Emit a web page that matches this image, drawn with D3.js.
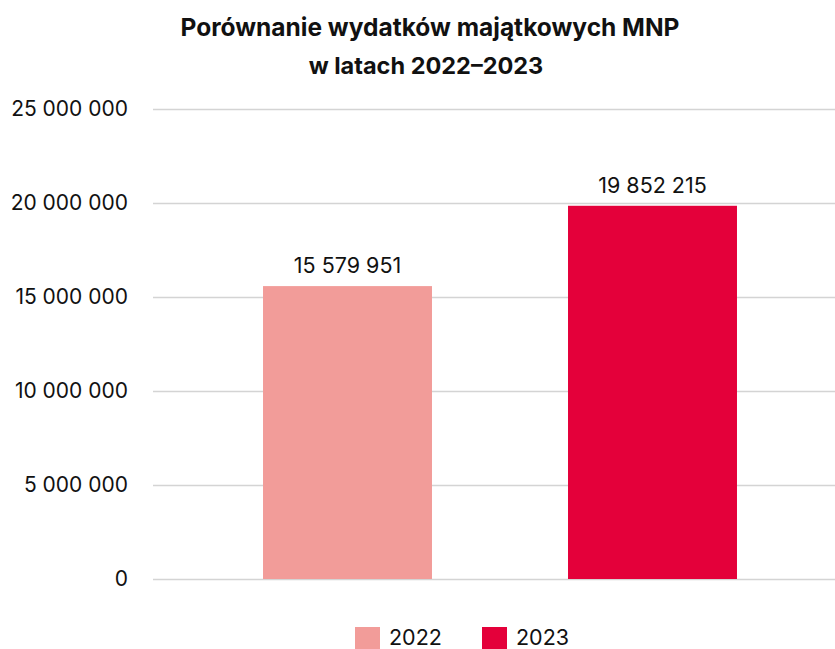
<!DOCTYPE html>
<html>
<head>
<meta charset="utf-8">
<script src="https://cdn.jsdelivr.net/npm/d3@7"></script>
<style>
  body { margin: 0; background: #fff; }
  text { font-family: Inter, Roboto, sans-serif; fill: #111; }
</style>
</head>
<body>
<div class="chart"></div>
<script>
const years = ['2022', '2023'];
const values = [15579951, 19852215];
const yTicks = [0, 5000000, 10000000, 15000000, 20000000, 25000000];
const colors = ['#F29C99', '#E4003A'];

const width = 835;
const height = 649;

const fmt = v => d3.format(',')(v).replace(/,/g, ' ');

const svg = d3.select('.chart')
  .append('svg')
    .attr('width', width)
    .attr('height', height);

// title
svg.append('text')
  .attr('x', 430)
  .attr('y', 36)
  .attr('text-anchor', 'middle')
  .style('font-size', '24.5px')
  .style('font-weight', '700')
  .text('Porównanie wydatków majątkowych MNP');
svg.append('text')
  .attr('x', 426)
  .attr('y', 74)
  .attr('text-anchor', 'middle')
  .style('font-size', '23.5px')
  .style('font-weight', '700')
  .text('w latach 2022–2023');

// scales
const xScale = d3.scaleBand()
  .domain(years)
  .range([195, 805])
  .paddingInner(0.446)
  .paddingOuter(0.223);

const yScale = d3.scaleLinear()
  .domain([0, 25000000])
  .range([579, 109]);

// y axis with grid
const yAxis = svg.append('g')
  .attr('transform', 'translate(153,0)')
  .call(d3.axisLeft(yScale)
    .tickValues(yTicks)
    .tickSize(-(width - 153))
    .tickPadding(25)
    .tickFormat(fmt));
yAxis.select('.domain').remove();
yAxis.selectAll('.tick line')
  .attr('stroke', '#d4d4d4')
  .attr('stroke-width', 1.3);
yAxis.selectAll('.tick text')
  .attr('fill', '#111')
  .style('font-family', 'Inter, Roboto, sans-serif')
  .style('font-size', '21px');

// bars
svg.selectAll('.bar')
  .data(years)
  .enter().append('rect')
    .attr('class', 'bar')
    .attr('x', d => xScale(d))
    .attr('y', (d, i) => yScale(values[i]))
    .attr('width', xScale.bandwidth())
    .attr('height', (d, i) => yScale(0) - yScale(values[i]))
    .attr('fill', (d, i) => colors[i]);

// value labels
svg.selectAll('.value')
  .data(years)
  .enter().append('text')
    .attr('class', 'value')
    .attr('x', d => xScale(d) + xScale.bandwidth() / 2)
    .attr('y', (d, i) => yScale(values[i]) - 13)
    .attr('text-anchor', 'middle')
    .style('font-size', '21.5px')
    .text((d, i) => fmt(values[i]));

// legend
const legendX = [355, 482];
const legend = svg.selectAll('.legend')
  .data(years)
  .enter().append('g')
    .attr('class', 'legend')
    .attr('transform', (d, i) => `translate(${legendX[i]},627)`);
legend.append('rect')
  .attr('width', 25)
  .attr('height', 22)
  .attr('fill', (d, i) => colors[i]);
legend.append('text')
  .attr('x', 34)
  .attr('y', 18)
  .style('font-size', '21.5px')
  .text(d => d);
</script>
</body>
</html>
